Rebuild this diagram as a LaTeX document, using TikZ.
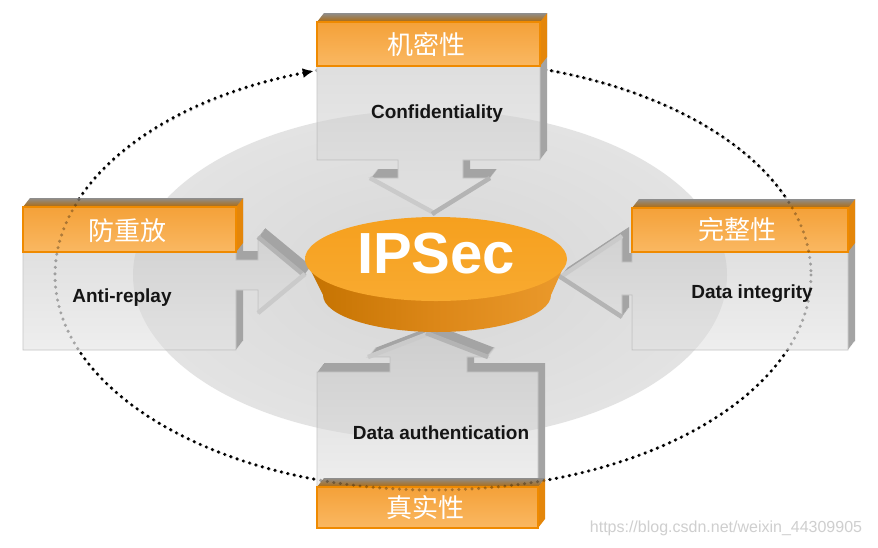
\documentclass[tikz,border=0pt]{standalone}
\usepackage{fontspec}
\setmainfont{Liberation Sans}
\newfontfamily\cjk{Noto Sans CJK SC}
\usetikzlibrary{arrows.meta}
\definecolor{bgA}{HTML}{D6D6D6}
\definecolor{bgB}{HTML}{E3E3E3}
\definecolor{faceTop}{HTML}{DADADA}
\definecolor{faceBot}{HTML}{EEEEEE}
\definecolor{faceEdge}{HTML}{C6C6C6}
\definecolor{sideGray}{HTML}{A4A4A4}
\definecolor{bandA}{HTML}{F4A139}
\definecolor{bandB}{HTML}{FAB862}
\definecolor{bandEdge}{HTML}{EF8A00}
\definecolor{bandTopA}{HTML}{8E8E8E}
\definecolor{bandTopB}{HTML}{B06A0A}
\definecolor{bandSide}{HTML}{E4860A}
\definecolor{discTop}{HTML}{F6A01E}
\definecolor{discTopB}{HTML}{F8AA30}
\definecolor{discL}{HTML}{C47200}
\definecolor{discM}{HTML}{DC8718}
\definecolor{discR}{HTML}{EB9A2C}
\definecolor{stripA}{HTML}{B4B4B4}
\definecolor{stripB}{HTML}{CACACA}
\definecolor{txt}{HTML}{151515}
\definecolor{wmgray}{HTML}{CFCFCF}
\def\shapeT{(317,22) -- (540,22) -- (540,160) -- (463,160) -- (463,178) -- (490,178) -- (434,213) -- (370,178) -- (398,178) -- (398,160) -- (317,160) -- cycle}
\def\shapeL{(23,207) -- (236,207) -- (236,260) -- (258,260) -- (258,237) -- (304,275) -- (258,313) -- (258,290) -- (236,290) -- (236,350) -- (23,350) -- cycle}
\def\shapeR{(632,208) -- (848,208) -- (848,350) -- (632,350) -- (632,295) -- (622,295) -- (622,317) -- (560,277) -- (622,236) -- (622,262) -- (632,262) -- cycle}
\def\shapeB{(317,372) -- (390,372) -- (390,357) -- (368,357) -- (428,334) -- (488,357) -- (467,357) -- (467,372) -- (538,372) -- (538,487) -- (317,487) -- cycle}
\newcommand\obbox[1]{%
  \foreach \i in {9,...,1}{\fill[sideGray, shift={(0.78*\i,-\i)}] #1;}
  \shade[top color=faceTop,bottom color=faceBot,draw=faceEdge,line width=0.8pt] #1;
  \begin{scope}\clip #1; \fill[black,opacity=0.05] (430,275) ellipse[x radius=297,y radius=165];\end{scope}
}
\newcommand\obband[4]{%
  \fill[bandSide] (#3,#2) -- (#3+7,#2-9) -- (#3+7,#4-9) -- (#3,#4) -- cycle;
  \shade[top color=bandTopA,bottom color=bandTopB] (#1,#2) -- (#3,#2) -- (#3+7,#2-9) -- (#1+7,#2-9) -- cycle;
  \shade[top color=bandA,bottom color=bandB,draw=bandEdge,line width=1.5pt] (#1,#2) rectangle (#3,#4);
}
\tikzset{
  dotsty/.style={line width=3.4pt, dash pattern=on 0pt off 6.6pt, line cap=round},
  stripdark/.style={draw=stripA, line width=4.5pt},
  striplight/.style={draw=stripB, line width=4.5pt},
  cn/.style={font=\cjk\fontsize{26}{26}\selectfont, text=white, inner sep=0pt},
  en/.style={font=\bfseries\fontsize{19}{19}\selectfont, text=txt, inner sep=0pt, anchor=base},
}
\begin{document}
\begin{tikzpicture}[x=1pt,y=-1pt]
\useasboundingbox (0,0) rectangle (878,547);
\fill[white] (0,0) rectangle (878,547);
% background ellipse
\shade[inner color=bgA, outer color=bgB] (430,275) ellipse[x radius=297,y radius=165];
% dotted cycle
\draw[dotsty, -{Latex[length=11pt,width=10pt]}] (433,275) ++(260:378 and 215) arc[start angle=260, end angle=611.6, x radius=378, y radius=215];
% side boxes
\obbox{\shapeL}
\obbox{\shapeR}
\obbox{\shapeB}
\obband{23}{207}{236}{252}
\obband{632}{208}{848}{252}
\obband{317}{487}{538}{528}
% faint dots through the boxes
\draw[dotsty, opacity=0.3] (433,275) ellipse[x radius=378, y radius=215];
% top box
\obbox{\shapeT}
\obband{317}{22}{540}{66}
% arrow head edges
\draw[striplight] (370,178) -- (436,214);
\draw[stripdark] (490,178) -- (432,214);
\draw[striplight] (368,357) -- (430,333);
\draw[stripdark] (488,357) -- (426,333);
\draw[stripdark] (258,237) -- (305,276);
\draw[striplight] (258,313) -- (305,274);
\draw[striplight] (622,236) -- (559,278);
\draw[stripdark] (622,317) -- (559,276);
% IPSec disc
\shade[left color=discL, right color=discR, middle color=discM] (305,259) -- (323,295) arc[start angle=180, end angle=0, x radius=114, y radius=37] -- (567,259) -- cycle;
\shade[top color=discTop, bottom color=discTopB] (436,259) ellipse[x radius=131, y radius=42];
\node[font=\bfseries\fontsize{58}{58}\selectfont, text=white, inner sep=0pt] (ipsec) at (436,254) {IPSec};
% labels
\node[cn] (cT) at (426,44) {机密性};
\node[en] (eT) at (437,118) {Confidentiality};
\node[cn] (cL) at (127,231) {防重放};
\node[en] (eL) at (122,302) {Anti-replay};
\node[cn] (cR) at (737,230) {完整性};
\node[en] (eR) at (752,298) {Data integrity};
\node[en] (eB) at (441,439) {Data authentication};
\node[cn] (cB) at (425,508) {真实性};
\node[font=\fontsize{16}{16}\selectfont, text=wmgray, inner sep=0pt] (wm) at (726,528) {https://blog.csdn.net/weixin\_44309905};
\end{tikzpicture}
\end{document}
